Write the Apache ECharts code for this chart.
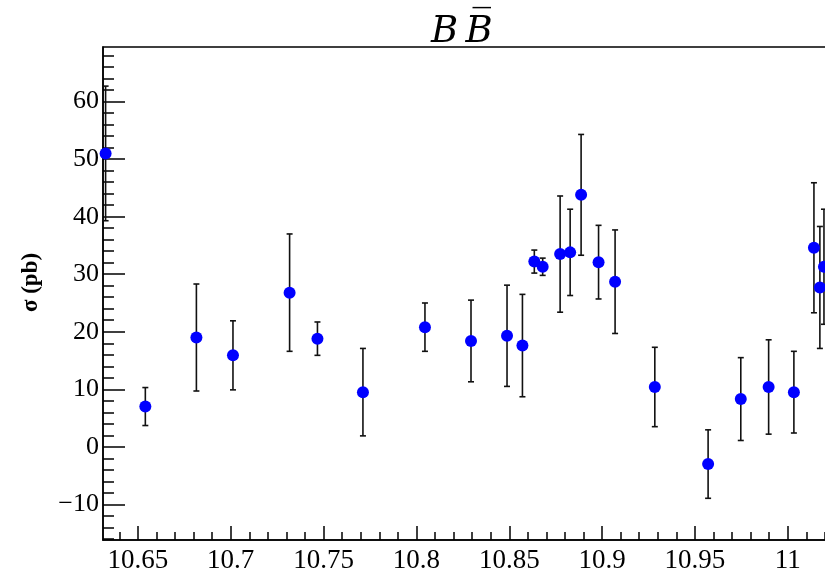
<!DOCTYPE html>
<html>
<head>
    <meta charset="utf-8">
    <title>B Bbar</title>
    <script src="https://cdn.jsdelivr.net/npm/echarts@6/dist/echarts.min.js"></script>
    <style type="text/css">
    html, body { margin: 0; padding: 0; background: #fff; }
    #main { width: 825px; height: 577px; }
    </style>
</head>
<body>
<div id="main"></div>
<script>
// sqrt(s) points (GeV) and cross section (pb) with errors
var energy   = [10.6326, 10.654, 10.6815, 10.7012, 10.7317, 10.7467, 10.7712, 10.8046, 10.8294, 10.8488,
                10.8571, 10.8635, 10.868, 10.8774, 10.8828, 10.8887, 10.8981, 10.9070, 10.9284, 10.9571,
                10.9747, 10.9897, 11.0033, 11.0141, 11.0173, 11.0195];
var sigma    = [51.0, 7.0, 19.0, 15.9, 26.8, 18.8, 9.5, 20.8, 18.4, 19.3,
                17.6, 32.2, 31.3, 33.5, 33.8, 43.8, 32.1, 28.7, 10.4, -3.0,
                8.3, 10.4, 9.5, 34.6, 27.7, 31.3];
var sigmaErr = [11.7, 3.3, 9.3, 6.0, 10.2, 2.9, 7.6, 4.2, 7.1, 8.8,
                8.9, 2.0, 1.5, 10.1, 7.5, 10.5, 6.4, 9.0, 6.9, 5.95,
                7.2, 8.2, 7.1, 11.3, 10.6, 10.0];

var xMajor = [10.65, 10.7, 10.75, 10.8, 10.85, 10.9, 10.95, 11];
var yMajor = [-10, 0, 10, 20, 30, 40, 50, 60];

var X_MIN = 10.6312, X_MAX = 11.0416;
var Y_MIN = -16.2, Y_MAX = 69.5;

// minor tick positions (every 0.01 on x, every 2 on y)
var xMinor = [];
for (var i = 1064; i <= 1104; i++) { xMinor.push(i / 100); }
var yMinor = [];
for (var j = -16; j <= 68; j += 2) { yMinor.push(j); }

var pts = [], bars = [];
for (var k = 0; k < energy.length; k++) {
    pts.push([energy[k], sigma[k]]);
    bars.push([energy[k], sigma[k] - sigmaErr[k], sigma[k] + sigmaErr[k]]);
}

var serif = '"Liberation Serif", "DejaVu Serif", serif';

var chart = echarts.init(document.getElementById('main'));
var option = {
    backgroundColor: '#fff',
    animation: false,
    title: {
        text: 'B\u2009B\u0305',
        left: 426,
        top: 9,
        textStyle: {
            fontFamily: '"DejaVu Serif", serif',
            fontStyle: 'italic',
            fontWeight: 'normal',
            fontSize: 37,
            color: '#000'
        }
    },
    grid: {
        left: 103,
        top: 47,
        width: 762,
        bottom: 37,
        outerBoundsMode: 'none',
        show: true,
        borderColor: '#000',
        borderWidth: 1.5,
        backgroundColor: 'transparent'
    },
    xAxis: [{
        type: 'value',
        min: X_MIN,
        max: X_MAX,
        position: 'bottom',
        splitLine: { show: false },
        axisLine: { show: true, onZero: false, lineStyle: { color: '#000', width: 1.5 } },
        axisTick: { show: true, inside: true, length: 14, customValues: xMajor, lineStyle: { color: '#000', width: 1.5 } },
        axisLabel: {
            customValues: xMajor,
            margin: 7,
            color: '#000',
            fontFamily: serif,
            fontSize: 27,
            formatter: function (v) { return String(+v.toFixed(2)); }
        }
    }, {
        type: 'value',
        min: X_MIN,
        max: X_MAX,
        position: 'bottom',
        splitLine: { show: false },
        axisLine: { show: false, onZero: false },
        axisTick: { show: true, inside: true, length: 8, customValues: xMinor, lineStyle: { color: '#000', width: 1.5 } },
        axisLabel: { show: false }
    }],
    yAxis: [{
        type: 'value',
        min: Y_MIN,
        max: Y_MAX,
        position: 'left',
        name: 'σ (pb)',
        nameLocation: 'middle',
        nameGap: 60,
        nameTextStyle: {
            fontFamily: serif,
            fontWeight: 'bold',
            fontSize: 23,
            color: '#000',
            padding: [0, 0, 0, 22]
        },
        splitLine: { show: false },
        axisLine: { show: true, onZero: false, lineStyle: { color: '#000', width: 1.5 } },
        axisTick: { show: true, inside: true, length: 22, customValues: yMajor, lineStyle: { color: '#000', width: 1.5 } },
        axisLabel: {
            customValues: yMajor,
            margin: 4,
            color: '#000',
            fontFamily: serif,
            fontSize: 26,
            formatter: function (v) { return v < 0 ? '\u2212' + Math.abs(v) : String(v); }
        }
    }, {
        type: 'value',
        min: Y_MIN,
        max: Y_MAX,
        position: 'left',
        splitLine: { show: false },
        axisLine: { show: false, onZero: false },
        axisTick: { show: true, inside: true, length: 11, customValues: yMinor, lineStyle: { color: '#000', width: 1.5 } },
        axisLabel: { show: false }
    }],
    series: [{
        name: 'err',
        type: 'custom',
        xAxisIndex: 0,
        yAxisIndex: 0,
        z: 2,
        clip: false,
        data: bars,
        renderItem: function (params, api) {
            var lo = api.coord([api.value(0), api.value(1)]);
            var hi = api.coord([api.value(0), api.value(2)]);
            var w = 3;
            var st = { stroke: '#111', lineWidth: 1.6 };
            return {
                type: 'group',
                children: [
                    { type: 'line', shape: { x1: lo[0], y1: lo[1], x2: hi[0], y2: hi[1] }, style: st },
                    { type: 'line', shape: { x1: lo[0] - w, y1: lo[1], x2: lo[0] + w, y2: lo[1] }, style: st },
                    { type: 'line', shape: { x1: hi[0] - w, y1: hi[1], x2: hi[0] + w, y2: hi[1] }, style: st }
                ]
            };
        }
    }, {
        name: 'BBbar',
        type: 'scatter',
        xAxisIndex: 0,
        yAxisIndex: 0,
        z: 3,
        symbol: 'circle',
        symbolSize: 12,
        itemStyle: { color: '#0000ff', opacity: 1 },
        data: pts
    }]
};
chart.setOption(option);
</script>
</body>
</html>
